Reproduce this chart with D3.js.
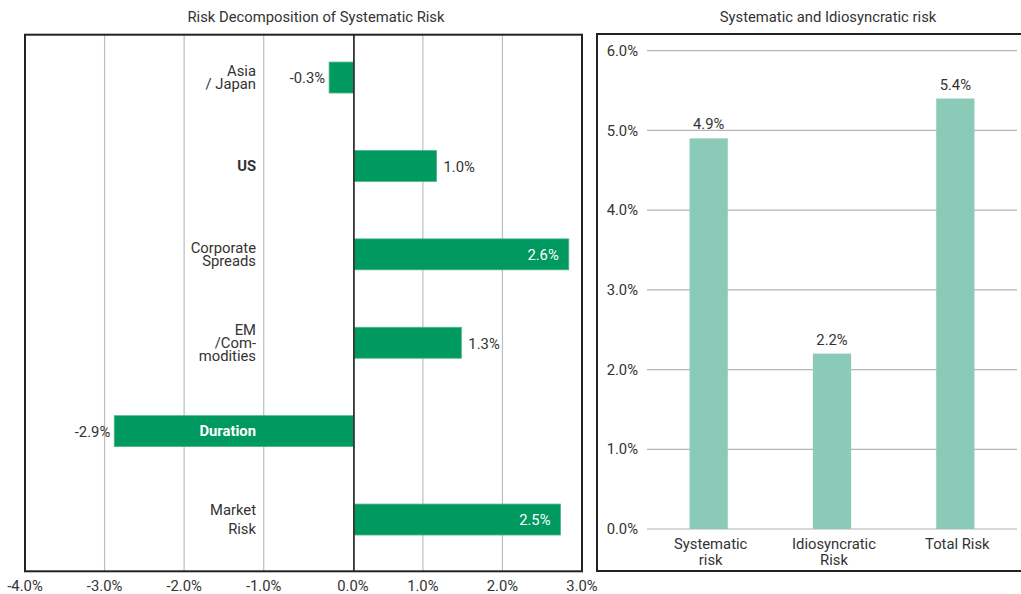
<!DOCTYPE html>
<html>
<head>
<meta charset="utf-8">
<script src="https://cdn.jsdelivr.net/npm/d3@7"></script>
<style>
  body { margin: 0; background: #fff; }
  text { font-family: Roboto, "Noto Sans", sans-serif; fill: #333; }
</style>
</head>
<body>
<svg id="chart" width="1021" height="594"></svg>
<script>
// Factor contributions to systematic risk (%)
const factorNames = ["Asia\n/ Japan", "US", "Corporate\nSpreads", "EM\n/Com-\nmodities", "Duration", "Market\nRisk"];
const factorValues = [-0.3, 1.0, 2.6, 1.3, -2.9, 2.5];
const factorTicks = [-4, -3, -2, -1, 0, 1, 2, 3];

// Risk totals (%)
const riskNames = ["Systematic\nrisk", "Idiosyncratic\nRisk", "Total Risk"];
const riskValues = [4.9, 2.2, 5.4];
const riskTicks = [0, 1, 2, 3, 4, 5, 6];

const svg = d3.select("#chart");
const pct = v => v.toFixed(1) + "%";
const GREEN = "#00995f";
const TEAL = "#8ccab8";
const FS = 14.8;

// ---------- Left panel: horizontal bars ----------
const L = { x0: 25, x1: 582, y0: 34.7, y1: 571.3 };
const emphasised = new Set(["US", "Duration"]);
const leading = { "Market\nRisk": 19 };

// gridline / tick axis
const gx = d3.scaleLinear().domain([-4, 3]).range([L.x0, L.x1]);
// value axis the bars hang from
const bx = d3.scaleLinear().domain([-3.98, 2.76]).range([L.x0, L.x1]);
const by = d3.scaleBand().domain(factorNames).range([L.y0, L.y1])
  .paddingInner(0.65).paddingOuter(0.36).align(0.43);

const left = svg.append("g");

left.append("text")
  .attr("x", 316).attr("y", 22)
  .attr("text-anchor", "middle")
  .attr("font-size", FS)
  .text("Risk Decomposition of Systematic Risk");

left.selectAll("line.grid")
  .data(factorTicks.filter(t => t !== 0 && t !== -4 && t !== 3))
  .join("line")
  .attr("class", "grid")
  .attr("x1", d => gx(d)).attr("x2", d => gx(d))
  .attr("y1", L.y0).attr("y2", L.y1)
  .attr("stroke", "#bdbdbd").attr("stroke-width", 1.2);

const bars = factorNames.map((n, i) => ({ name: n, value: factorValues[i] }));

left.selectAll("rect.bar")
  .data(bars)
  .join("rect")
  .attr("class", "bar")
  .attr("x", d => Math.min(bx(0), bx(d.value)))
  .attr("width", d => Math.abs(bx(d.value) - bx(0)))
  .attr("y", d => by(d.name))
  .attr("height", by.bandwidth())
  .attr("fill", GREEN)
  .attr("stroke", "#4db585").attr("stroke-width", 0.8);

// zero line
left.append("line")
  .attr("x1", bx(0)).attr("x2", bx(0))
  .attr("y1", L.y0).attr("y2", L.y1)
  .attr("stroke", "#333").attr("stroke-width", 1.8);

// frame
left.append("rect")
  .attr("x", L.x0).attr("y", L.y0)
  .attr("width", L.x1 - L.x0).attr("height", L.y1 - L.y0)
  .attr("fill", "none").attr("stroke", "#222").attr("stroke-width", 2);

// category labels
const labelX = 256;
bars.forEach(d => {
  const lines = d.name.split("\n");
  const lh = leading[d.name] || 13.3;
  const cy = by(d.name) + by.bandwidth() / 2;
  const onBar = bx(d.value) < labelX;
  const t = left.append("text")
    .attr("text-anchor", "end")
    .attr("font-size", FS)
    .attr("font-weight", emphasised.has(d.name) ? 700 : 400)
    .style("fill", onBar ? "#fff" : "#333");
  lines.forEach((ln, k) => {
    t.append("tspan")
      .attr("x", labelX)
      .attr("y", cy + (k - (lines.length - 1) / 2) * lh)
      .attr("dy", "0.35em")
      .text(ln);
  });
});

// value labels
left.selectAll("text.val")
  .data(bars)
  .join("text")
  .attr("class", "val")
  .attr("font-size", FS)
  .attr("dy", "0.4em")
  .attr("y", d => by(d.name) + by.bandwidth() / 2)
  .each(function (d) {
    const end = bx(d.value);
    const sel = d3.select(this);
    if (d.value < 0) {
      sel.attr("x", end - 4).attr("text-anchor", "end");
    } else if (end + 40 > L.x1) {
      sel.attr("x", end - 10).attr("text-anchor", "end").style("fill", "#fff");
    } else {
      sel.attr("x", end + 7).attr("text-anchor", "start");
    }
  })
  .text(d => pct(d.value));

// tick labels
left.selectAll("text.tick")
  .data(factorTicks)
  .join("text")
  .attr("class", "tick")
  .attr("x", d => d === 0 ? bx(0) - 1 : gx(d))
  .attr("y", 591)
  .attr("text-anchor", "middle")
  .attr("font-size", FS)
  .text(d => pct(d));

// ---------- Right panel: vertical bars ----------
const R = { x0: 597, x1: 1030, y0: 34, y1: 571 };
const ry = d3.scaleLinear().domain([0, 6]).range([529, 50.7]);
const rx = d3.scaleBand().domain(riskNames).range([647, 1017])
  .paddingInner(0.69).paddingOuter(0.345);

const right = svg.append("g");

right.append("text")
  .attr("x", 828).attr("y", 22)
  .attr("text-anchor", "middle")
  .attr("font-size", FS)
  .text("Systematic and Idiosyncratic risk");

right.append("rect")
  .attr("x", R.x0).attr("y", R.y0)
  .attr("width", R.x1 - R.x0).attr("height", R.y1 - R.y0)
  .attr("fill", "none").attr("stroke", "#222").attr("stroke-width", 2);

right.selectAll("line.grid")
  .data(riskTicks)
  .join("line")
  .attr("class", "grid")
  .attr("x1", 647).attr("x2", 1017)
  .attr("y1", d => ry(d)).attr("y2", d => ry(d))
  .attr("stroke", "#b5b5b5").attr("stroke-width", 1.2);

right.selectAll("text.tick")
  .data(riskTicks)
  .join("text")
  .attr("class", "tick")
  .attr("x", 638)
  .attr("y", d => ry(d))
  .attr("dy", "0.35em")
  .attr("text-anchor", "end")
  .attr("font-size", FS)
  .text(d => pct(d));

const rbars = riskNames.map((n, i) => ({ name: n, value: riskValues[i] }));

right.selectAll("rect.bar")
  .data(rbars)
  .join("rect")
  .attr("class", "bar")
  .attr("x", d => rx(d.name))
  .attr("width", rx.bandwidth())
  .attr("y", d => ry(d.value))
  .attr("height", d => ry(0) - ry(d.value))
  .attr("fill", TEAL);

right.selectAll("text.val")
  .data(rbars)
  .join("text")
  .attr("class", "val")
  .attr("x", d => rx(d.name) + rx.bandwidth() / 2)
  .attr("y", d => ry(d.value) - 9)
  .attr("text-anchor", "middle")
  .attr("font-size", FS)
  .text(d => pct(d.value));

rbars.forEach(d => {
  const t = right.append("text")
    .attr("text-anchor", "middle")
    .attr("font-size", FS);
  d.name.split("\n").forEach((ln, k) => {
    t.append("tspan")
      .attr("x", rx(d.name) + rx.bandwidth() / 2 + 2)
      .attr("y", 549 + k * 15.7)
      .text(ln);
  });
});
</script>
</body>
</html>
